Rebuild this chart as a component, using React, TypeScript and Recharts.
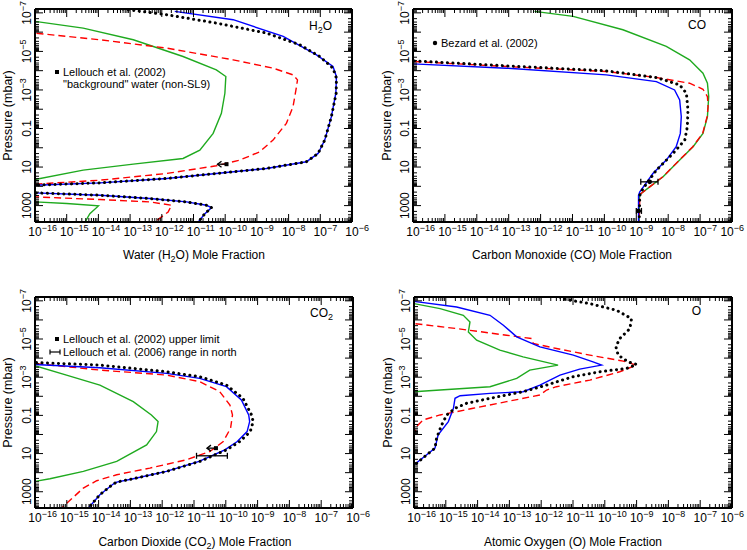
import React from "react"
import { LineChart, Line, XAxis, YAxis, ReferenceLine, ReferenceDot } from "recharts"

// profiles: [log10 mole fraction, log10 pressure (mbar)]
type Row = [number, number]

const h2oGreen: Row[] = [
  [-16.3, -6.6], [-16.0, -6.558], [-14.48, -6.211], [-12.9, -5.604], [-11.33, -4.737], [-10.28, -4.043],
  [-9.98, -3.696], [-10.01, -2.829], [-10.12, -1.788], [-10.38, -0.747], [-10.8, 0.12], [-11.33, 0.554],
  [-12.9, 0.849], [-14.48, 1.161], [-16.0, 1.647], [-18, 2.3], [-16.0, 2.809], [-15.0, 2.895],
  [-14.0, 3.017], [-14.27, 3.416], [-14.42, 3.85], [-14.45, 3.95],
]
const h2oRed: Row[] = [
  [-16.3, -5.97], [-16.0, -5.951], [-13.95, -5.604], [-11.85, -5.171], [-9.75, -4.563], [-8.49, -4.13],
  [-7.86, -3.783], [-7.72, -3.523], [-7.75, -3.176], [-7.86, -2.135], [-8.07, -1.268], [-8.49, -0.4],
  [-8.91, 0.207], [-9.54, 0.64], [-10.28, 0.935], [-11.85, 1.334], [-13.95, 1.681], [-16.0, 1.889],
  [-18, 2.2], [-16.0, 2.548], [-13.95, 2.687], [-12.38, 2.809], [-11.69, 2.982], [-11.8, 3.329],
  [-12.22, 3.85], [-12.3, 3.95],
]
const h2oBlue: Row[] = [
  [-11.59, -7.079], [-9.75, -6.645], [-8.17, -5.778], [-7.12, -4.824], [-6.6, -4.217], [-6.49, -3.696],
  [-6.51, -2.829], [-6.65, -1.615], [-6.86, -0.4], [-7.07, 0.294], [-7.44, 0.727], [-8.7, 1.074],
  [-10.28, 1.334], [-11.85, 1.594], [-13.95, 1.82], [-16.0, 1.941], [-18, 2.1], [-16.0, 2.34],
  [-13.95, 2.462], [-12.38, 2.635], [-11.22, 2.809], [-10.59, 2.982], [-10.43, 3.104], [-10.64, 3.416],
  [-10.85, 3.85], [-10.9, 3.95],
]
const h2oBlack: Row[] = [
  [-13.4, -7.25], [-13.22, -7.2], [-11.85, -6.905], [-10.28, -6.471], [-8.7, -5.951], [-7.65, -5.344],
  [-7.02, -4.737], [-6.6, -4.13], [-6.49, -3.609], [-6.5, -2.829], [-6.65, -1.615], [-6.86, -0.4],
  [-7.07, 0.294], [-7.44, 0.727], [-8.7, 1.074], [-10.28, 1.334], [-11.85, 1.594], [-13.95, 1.82],
  [-16.0, 1.941], [-18, 2.1], [-16.0, 2.34], [-13.95, 2.462], [-12.38, 2.635], [-11.22, 2.809],
  [-10.59, 2.982], [-10.43, 3.104], [-10.64, 3.416], [-10.85, 3.85], [-10.9, 3.95],
]

const coGreen: Row[] = [
  [-12.19, -7.079], [-10.98, -6.818], [-9.42, -6.125], [-8.06, -5.257], [-7.33, -4.563], [-6.91, -3.87],
  [-6.77, -3.349], [-6.73, -2.655], [-6.77, -1.615], [-6.91, -0.747], [-7.22, -0.053], [-7.64, 0.64],
  [-8.16, 1.508], [-8.58, 2.028], [-8.89, 2.427], [-8.91, 2.722], [-8.91, 3.95],
]
const coRed: Row[] = [
  [-16.3, -4.49], [-16.0, -4.477], [-13.07, -4.217], [-9.94, -3.956], [-8.37, -3.644], [-7.33, -3.349],
  [-6.91, -3.037], [-6.77, -2.655], [-6.75, -2.135], [-6.78, -1.615], [-6.92, -0.747], [-7.23, -0.053],
  [-7.65, 0.64], [-8.17, 1.508], [-8.58, 2.028], [-8.89, 2.427], [-8.91, 3.95],
]
const coBlue: Row[] = [
  [-16.3, -4.37], [-16.0, -4.355], [-13.07, -4.13], [-9.94, -3.783], [-8.37, -3.436], [-7.8, -3.002],
  [-7.64, -2.482], [-7.59, -1.615], [-7.62, -0.747], [-7.75, -0.053], [-8.06, 0.64], [-8.48, 1.334],
  [-8.89, 2.288], [-8.93, 2.462], [-8.93, 3.95],
]
const coBlack: Row[] = [
  [-16.3, -4.52], [-16.0, -4.511], [-13.07, -4.251], [-9.94, -3.991], [-8.37, -3.644], [-7.64, -3.262],
  [-7.43, -2.829], [-7.38, -1.962], [-7.4, -1.094], [-7.48, -0.4], [-7.85, 0.294], [-8.37, 1.161],
  [-8.79, 2.115], [-8.89, 2.462], [-8.91, 3.95],
]

const co2Green: Row[] = [
  [-16.3, -3.59], [-16.0, -3.598], [-15.01, -3.111], [-13.96, -2.589], [-12.91, -1.719], [-12.34, -1.023],
  [-12.13, -0.675], [-12.18, -0.153], [-12.49, 0.543], [-13.43, 1.413], [-14.48, 1.935], [-15.53, 2.318],
  [-16.0, 2.457], [-16.3, 2.47],
]
const co2Red: Row[] = [
  [-16.3, -3.73], [-16.0, -3.72], [-13.96, -3.372], [-11.86, -3.111], [-10.82, -2.763], [-10.19, -2.241],
  [-9.87, -1.545], [-9.79, -1.023], [-9.85, -0.327], [-10.08, 0.369], [-10.5, 0.891], [-11.24, 1.326],
  [-12.39, 1.761], [-13.43, 2.109], [-14.06, 2.422], [-14.48, 2.805], [-15.16, 3.85], [-15.25, 3.95],
]
const co2Blue: Row[] = [
  [-16.3, -3.68], [-16.0, -3.668], [-13.96, -3.494], [-11.86, -3.198], [-10.82, -2.937], [-9.98, -2.502],
  [-9.51, -1.806], [-9.28, -1.023], [-9.25, -0.675], [-9.33, -0.153], [-9.64, 0.369], [-10.03, 0.804],
  [-10.84, 1.413], [-11.87, 1.935], [-12.91, 2.318], [-13.43, 2.492], [-13.54, 2.597], [-13.96, 3.153],
  [-14.32, 3.85], [-14.4, 3.95],
]
const co2Black: Row[] = [
  [-16.3, -3.78], [-16.0, -3.772], [-13.96, -3.633], [-11.86, -3.285], [-10.82, -3.024], [-9.98, -2.589],
  [-9.46, -1.893], [-9.19, -1.023], [-9.14, -0.675], [-9.23, -0.153], [-9.56, 0.369], [-9.98, 0.804],
  [-10.82, 1.413], [-11.86, 1.935], [-12.91, 2.318], [-13.43, 2.492], [-13.54, 2.597], [-13.96, 3.153],
  [-14.32, 3.85], [-14.4, 3.95],
]

const oGreen: Row[] = [
  [-16.3, -6.87], [-16.0, -6.852], [-15.18, -6.591], [-14.45, -6.243], [-14.24, -5.895], [-14.29, -5.373],
  [-14.03, -4.938], [-13.3, -4.416], [-12.57, -4.068], [-11.47, -3.633], [-12.36, -3.372], [-12.77, -2.937],
  [-13.61, -2.502], [-15.18, -2.328], [-16.0, -2.241], [-16.3, -2.22],
]
const oRed: Row[] = [
  [-16.3, -5.83], [-16.0, -5.808], [-14.66, -5.547], [-13.09, -5.199], [-12.3, -5.025], [-12.25, -4.764],
  [-11.52, -4.503], [-10.47, -4.155], [-9.42, -3.842], [-9.0, -3.633], [-9.53, -3.285], [-10.47, -2.85],
  [-11.52, -2.502], [-11.83, -2.328], [-12.04, -2.067], [-13.09, -1.719], [-14.14, -1.371], [-15.18, -1.023],
  [-15.71, -0.762], [-15.92, -0.414], [-16.0, 0.021], [-16.2, 0.1],
]
const oBlue: Row[] = [
  [-16.3, -6.99], [-16.0, -6.974], [-14.66, -6.678], [-13.61, -6.243], [-13.19, -5.721], [-12.77, -5.112],
  [-12.04, -4.59], [-10.99, -4.155], [-10.37, -3.807], [-10.1, -3.633], [-10.79, -3.424], [-11.41, -3.111],
  [-12.04, -2.589], [-12.57, -2.241], [-13.61, -2.154], [-14.55, -2.032], [-14.71, -1.893], [-14.76, -1.371],
  [-14.92, -0.675], [-15.24, 0.021], [-15.34, 0.717], [-15.6, 1.065], [-16.0, 1.587], [-16.3, 1.65],
]
const oBlack: Row[] = [
  [-11.41, -7.2], [-11.36, -7.113], [-10.47, -6.852], [-9.63, -6.504], [-9.16, -6.069], [-9.21, -5.547],
  [-9.53, -5.025], [-9.65, -4.59], [-9.58, -4.155], [-9.27, -3.807], [-9.0, -3.668], [-9.32, -3.459],
  [-10.16, -3.285], [-11.0, -3.024], [-11.83, -2.589], [-12.57, -2.241], [-13.61, -1.893], [-14.35, -1.632],
  [-14.71, -1.371], [-14.97, -1.023], [-15.13, -0.501], [-15.29, 0.195], [-15.34, 0.717], [-15.6, 1.065],
  [-15.97, 1.587], [-16.3, 1.7],
]

// observations (mole fraction, mbar)
const h2oUpperLimit = { x: 1.1e-10, p: 7.1 }
const co2UpperLimit = { x: 4.9e-11, p: 5.2 }
const co2Range = { lo: 1.2e-11, hi: 1.12e-10, p: 13.1 }
const coBezard = [
  { x: 2.63e-9, lo: 1.38e-9, hi: 4.79e-9, p: 58.6 },
  { x: 1.17e-9, lo: 1.0e-9, hi: 1.45e-9, p: 1890 },
]

const xMajorExps = [-16, -15, -14, -13, -12, -11, -10, -9, -8, -7, -6]
const pLabelExps = [-7, -5, -3, -1, 1, 3]
const pPlainLabels: Record<number, string> = { [-1]: "0.1", 1: "10", 3: "1000" }

const X_DOMAIN: [number, number] = [1e-16, 1e-6]
const P_DOMAIN: [number, number] = [6.3e-8, 7.1e3]

const FONT = "'Liberation Sans', Arial, Helvetica, sans-serif"
const GREEN = "#1faa1f"
const RED = "#ff0000"
const BLUE = "#0000ff"

const logTicks = (lo: number, hi: number) => {
  const out: number[] = []
  for (let e = lo; e < hi; e++) for (let m = 1; m < 10; m++) out.push(m * 10 ** e)
  out.push(10 ** hi)
  return out
}
const xTicks = logTicks(xMajorExps[0], xMajorExps[xMajorExps.length - 1])
const pTicks = logTicks(-8, 4).filter((v) => v >= P_DOMAIN[0] && v <= P_DOMAIN[1])

const toPts = (rows: Row[]) => rows.map(([lx, lp]) => ({ x: 10 ** lx, p: 10 ** lp }))
const isDecade = (v: number) => Math.abs(Math.log10(v) - Math.round(Math.log10(v))) < 1e-6
const expOf = (v: number) => Math.round(Math.log10(v))

function BottomTick({ x, y, payload, maxEnd }: any) {
  const v = payload.value
  const major = isDecade(v)
  const e = Math.abs(expOf(v))
  // "10" sits centred on the tick, the exponent trails after it
  const w = 13.3 + 5.3 + 5 * String(e).length
  const start = Math.min(x - 6.7, maxEnd - w)
  return (
    <g>
      <line x1={x} y1={y} x2={x} y2={y - (major ? 8 : 4)} stroke="#000" />
      {major && (
        <text x={start} y={y + 14} fontSize={12} fontFamily={FONT} fill="#000">
          10<tspan dy={-5} fontSize={9}>{"\u2212" + e}</tspan>
        </text>
      )}
    </g>
  )
}

function TopTick({ x, y, payload }: any) {
  const major = isDecade(payload.value)
  return <line x1={x} y1={y} x2={x} y2={y + (major ? 8 : 4)} stroke="#000" />
}

function LeftTick({ x, y, payload }: any) {
  const v = payload.value
  const major = isDecade(v)
  const e = expOf(v)
  const labelled = major && pLabelExps.includes(e)
  const bx = x - 4
  return (
    <g>
      <line x1={x} y1={y} x2={x + (major ? 8 : 4)} y2={y} stroke="#000" />
      {labelled && (
        <text
          x={bx}
          y={y}
          transform={`rotate(-90 ${bx} ${y})`}
          textAnchor="middle"
          fontSize={12}
          fontFamily={FONT}
          fill="#000"
        >
          {pPlainLabels[e] ?? (
            <>
              10<tspan dy={-5} fontSize={9}>{"\u2212" + Math.abs(e)}</tspan>
            </>
          )}
        </text>
      )}
    </g>
  )
}

function RightTick({ x, y, payload }: any) {
  const major = isDecade(payload.value)
  return <line x1={x} y1={y} x2={x - (major ? 8 : 4)} y2={y} stroke="#000" />
}

const arrowSquare = ({ cx, cy }: any) => (
  <g>
    <rect x={cx - 2} y={cy - 2} width={4} height={4} fill="#000" />
    <line x1={cx} y1={cy} x2={cx - 9} y2={cy} stroke="#000" strokeWidth={1.3} />
    <polyline points={`${cx - 5},${cy - 3} ${cx - 9},${cy} ${cx - 5},${cy + 3}`} fill="none" stroke="#000" strokeWidth={1.3} />
  </g>
)
const cap = ({ cx, cy }: any) => <line x1={cx} y1={cy - 3} x2={cx} y2={cy + 3} stroke="#000" strokeWidth={1.3} />
const bigDot = ({ cx, cy }: any) => <circle cx={cx} cy={cy} r={2.3} fill="#000" />

type Series = { rows: Row[]; kind: "green" | "red" | "blue" | "black" }

function seriesStyle(kind: Series["kind"]) {
  if (kind === "green") return { stroke: GREEN, strokeWidth: 1.4 }
  if (kind === "red") return { stroke: RED, strokeWidth: 1.4, strokeDasharray: "7 4" }
  if (kind === "blue") return { stroke: BLUE, strokeWidth: 1.4 }
  return { stroke: "#000", strokeWidth: 3, strokeDasharray: "0.1 5.4", strokeLinecap: "round" as const }
}

interface PanelProps {
  left: number
  top: number
  width: number
  // plot-box edges inside the 275px tall panel
  box: { top: number; right: number; bottom: number; left: number }
  series: Series[]
  children?: React.ReactNode
}

// axes are 1px thick (Recharts skips zero-size axes), so the margins are shrunk by 1
function Panel({ left, top, width, box, series, children }: PanelProps) {
  const margin = { top: box.top - 1, right: box.right - 1, bottom: box.bottom - 1, left: box.left - 1 }
  return (
    <div style={{ position: "absolute", left, top }}>
      <LineChart layout="vertical" width={width} height={275} margin={margin}>
        <XAxis
          xAxisId="b"
          type="number"
          scale="log"
          domain={X_DOMAIN}
          ticks={xTicks}
          interval={0}
          allowDataOverflow
          height={1}
          tickSize={0}
          tickMargin={0}
          tickLine={false}
          tick={(p: any) => <BottomTick {...p} maxEnd={width - 3} />}
          axisLine={{ stroke: "#000", strokeWidth: 2 }}
        />
        <XAxis
          xAxisId="t"
          orientation="top"
          type="number"
          scale="log"
          domain={X_DOMAIN}
          ticks={xTicks}
          interval={0}
          allowDataOverflow
          height={1}
          tickSize={0}
          tickMargin={0}
          tickLine={false}
          tick={(p: any) => <TopTick {...p} />}
          axisLine={{ stroke: "#000", strokeWidth: 2 }}
        />
        <YAxis
          yAxisId="l"
          type="number"
          dataKey="p"
          scale="log"
          domain={P_DOMAIN}
          ticks={pTicks}
          interval={0}
          allowDataOverflow
          width={1}
          tickSize={0}
          tickMargin={0}
          tickLine={false}
          tick={(p: any) => <LeftTick {...p} />}
          axisLine={{ stroke: "#000", strokeWidth: 2 }}
        />
        <YAxis
          yAxisId="r"
          orientation="right"
          type="number"
          dataKey="p"
          scale="log"
          domain={P_DOMAIN}
          ticks={pTicks}
          interval={0}
          allowDataOverflow
          width={1}
          tickSize={0}
          tickMargin={0}
          tickLine={false}
          tick={(p: any) => <RightTick {...p} />}
          axisLine={{ stroke: "#000", strokeWidth: 2 }}
        />
        {series.map((s, i) => (
          <Line
            key={i}
            xAxisId="b"
            yAxisId="l"
            data={toPts(s.rows)}
            dataKey="x"
            type="linear"
            dot={false}
            activeDot={false}
            isAnimationActive={false}
            {...seriesStyle(s.kind)}
          />
        ))}
        {children}
      </LineChart>
    </div>
  )
}

const txt = { fontFamily: FONT, fill: "#000" }

export default function App() {
  const errBar = (lo: number, hi: number, p: number, key: string) => [
    <ReferenceLine
      key={key + "l"}
      xAxisId="b"
      yAxisId="l"
      segment={[{ x: lo, y: p }, { x: hi, y: p }]}
      stroke="#000"
      strokeWidth={1.3}
    />,
    <ReferenceDot key={key + "a"} xAxisId="b" yAxisId="l" x={lo} y={p} shape={cap} />,
    <ReferenceDot key={key + "b"} xAxisId="b" yAxisId="l" x={hi} y={p} shape={cap} />,
  ]

  return (
    <div style={{ position: "absolute", left: 0, top: 0, width: 747, height: 550, background: "#fff" }}>
      <Panel
        left={0}
        top={0}
        width={373}
        box={{ top: 9, right: 21, bottom: 53, left: 35 }}
        series={[
          { rows: h2oGreen, kind: "green" },
          { rows: h2oRed, kind: "red" },
          { rows: h2oBlue, kind: "blue" },
          { rows: h2oBlack, kind: "black" },
        ]}
      >
        <ReferenceDot xAxisId="b" yAxisId="l" x={h2oUpperLimit.x} y={h2oUpperLimit.p} shape={arrowSquare} />
      </Panel>
      <Panel
        left={373}
        top={0}
        width={374}
        box={{ top: 9, right: 15, bottom: 53, left: 40 }}
        series={[
          { rows: coGreen, kind: "green" },
          { rows: coRed, kind: "red" },
          { rows: coBlue, kind: "blue" },
          { rows: coBlack, kind: "black" },
        ]}
      >
        {coBezard.flatMap((d, i) => [
          ...errBar(d.lo, d.hi, d.p, "co" + i),
          <ReferenceDot key={"cod" + i} xAxisId="b" yAxisId="l" x={d.x} y={d.p} shape={bigDot} />,
        ])}
      </Panel>
      <Panel
        left={0}
        top={275}
        width={373}
        box={{ top: 22, right: 20, bottom: 42, left: 35 }}
        series={[
          { rows: co2Green, kind: "green" },
          { rows: co2Red, kind: "red" },
          { rows: co2Blue, kind: "blue" },
          { rows: co2Black, kind: "black" },
        ]}
      >
        {errBar(co2Range.lo, co2Range.hi, co2Range.p, "co2")}
        <ReferenceDot xAxisId="b" yAxisId="l" x={co2UpperLimit.x} y={co2UpperLimit.p} shape={arrowSquare} />
      </Panel>
      <Panel
        left={373}
        top={275}
        width={374}
        box={{ top: 22, right: 15, bottom: 42, left: 41 }}
        series={[
          { rows: oGreen, kind: "green" },
          { rows: oRed, kind: "red" },
          { rows: oBlue, kind: "blue" },
          { rows: oBlack, kind: "black" },
        ]}
      />

      <svg width={747} height={550} style={{ position: "absolute", left: 0, top: 0, pointerEvents: "none" }}>
        {/* x titles */}
        <text x={194} y={259} textAnchor="middle" fontSize={12} {...txt}>
          Water (H<tspan dy={3} fontSize={9}>2</tspan><tspan dy={-3}>O) Mole Fraction</tspan>
        </text>
        <text x={572} y={259} textAnchor="middle" fontSize={12} {...txt}>
          Carbon Monoxide (CO) Mole Fraction
        </text>
        <text x={195} y={546} textAnchor="middle" fontSize={12} {...txt}>
          Carbon Dioxide (CO<tspan dy={3} fontSize={9}>2</tspan><tspan dy={-3}>) Mole Fraction</tspan>
        </text>
        <text x={573} y={546} textAnchor="middle" fontSize={12} {...txt}>
          Atomic Oxygen (O) Mole Fraction
        </text>

        {/* y titles */}
        {[
          [12, 115.5],
          [391, 115.5],
          [12, 402.5],
          [392, 402.5],
        ].map(([x, y], i) => (
          <text key={i} x={x} y={y} transform={`rotate(-90 ${x} ${y})`} textAnchor="middle" fontSize={12.5} {...txt}>
            Pressure (mbar)
          </text>
        ))}

        {/* species tags */}
        <text x={332} y={30} textAnchor="end" fontSize={12} {...txt}>
          H<tspan dy={3} fontSize={9}>2</tspan><tspan dy={-3}>O</tspan>
        </text>
        <text x={706} y={29} textAnchor="end" fontSize={12} {...txt}>CO</text>
        <text x={333} y={317} textAnchor="end" fontSize={12} {...txt}>
          CO<tspan dy={3} fontSize={9}>2</tspan>
        </text>
        <text x={701} y={315} textAnchor="end" fontSize={12} {...txt}>O</text>

        {/* legends */}
        <rect x={55} y={70} width={4} height={4} fill="#000" />
        <text x={63} y={76} fontSize={11} {...txt}>Lellouch et al. (2002)</text>
        <text x={63} y={88} fontSize={11} {...txt}>"background" water (non-SL9)</text>

        <circle cx={435} cy={43} r={2.2} fill="#000" />
        <text x={441} y={47} fontSize={11} {...txt}>Bezard et al. (2002)</text>

        <rect x={55} y={337} width={4} height={4} fill="#000" />
        <text x={63} y={343} fontSize={11} {...txt}>Lellouch et al. (2002) upper limit</text>
        <line x1={50} y1={352} x2={60} y2={352} stroke="#000" strokeWidth={1.2} />
        <line x1={50} y1={349.5} x2={50} y2={354.5} stroke="#000" strokeWidth={1.2} />
        <line x1={60} y1={349.5} x2={60} y2={354.5} stroke="#000" strokeWidth={1.2} />
        <text x={63} y={356} fontSize={11} {...txt}>Lellouch et al. (2006) range in north</text>
      </svg>
    </div>
  )
}
